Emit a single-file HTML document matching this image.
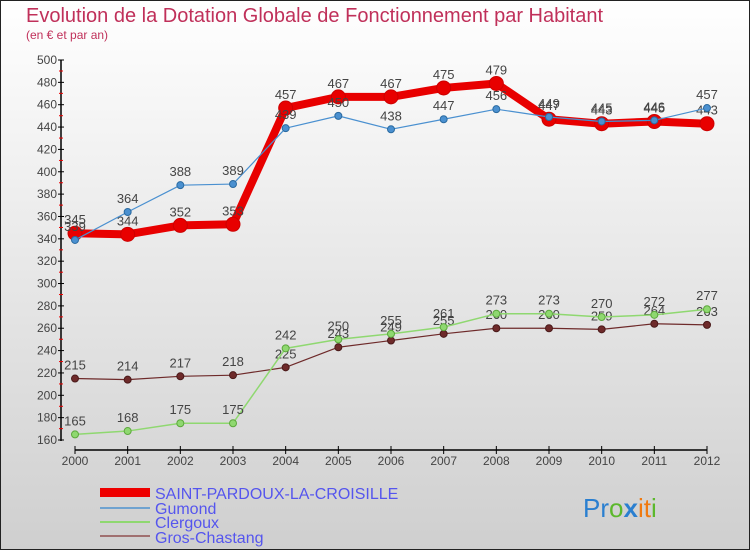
<!DOCTYPE html>
<html><head><meta charset="utf-8"><style>
body{margin:0;width:750px;height:550px;overflow:hidden}
svg{display:block;font-family:"Liberation Sans","DejaVu Sans",sans-serif}
</style></head><body>
<svg id="c" width="750" height="550">
<defs><linearGradient id="bg" x1="0" y1="0" x2="0" y2="1"><stop offset="0" stop-color="#ffffff"/><stop offset="1" stop-color="#cfcfcf"/></linearGradient></defs>
<rect x="0.5" y="0.5" width="749" height="549" fill="url(#bg)" stroke="#222"/>
<text x="26" y="22" font-size="20" fill="#c0305a">Evolution de la Dotation Globale de Fonctionnement par Habitant</text>
<text x="26" y="39" font-size="12" fill="#c0305a">(en € et par an)</text>
<g id="axes"></g><g id="series"></g>
<g>
<rect x="100" y="488" width="50" height="9" fill="#e00"/>
<text x="155" y="499" font-size="16" fill="#5555ee">SAINT-PARDOUX-LA-CROISILLE</text>
<line x1="100" x2="150" y1="508" y2="508" stroke="#6fa3d0" stroke-width="2"/>
<text x="155" y="514" font-size="16" fill="#5555ee">Gumond</text>
<line x1="100" x2="150" y1="522" y2="522" stroke="#8fd870" stroke-width="2"/>
<text x="155" y="528" font-size="16" fill="#5555ee">Clergoux</text>
<line x1="100" x2="150" y1="536" y2="536" stroke="#a07070" stroke-width="2"/>
<text x="155" y="543" font-size="16" fill="#5555ee">Gros-Chastang</text>
</g>
<text x="583" y="517" font-size="26"><tspan fill="#2a7fd0">Pr</tspan><tspan fill="#5cb82c">o</tspan><tspan fill="#2a7fd0" font-weight="bold">x</tspan><tspan fill="#f07a10">it</tspan><tspan fill="#5cb82c">i</tspan></text>
</svg>
<script>
const years=[2000,2001,2002,2003,2004,2005,2006,2007,2008,2009,2010,2011,2012];
const yTicks=[160,180,200,220,240,260,280,300,320,340,360,380,400,420,440,460,480,500];
const saintPardoux=[345,344,352,353,457,467,467,475,479,447,443,445,443];
const gumond=[339,364,388,389,439,450,438,447,456,449,445,446,457];
const clergoux=[165,168,175,175,242,250,255,261,273,273,270,272,277];
const grosChastang=[215,214,217,218,225,243,249,255,260,260,259,264,263];
const NS="http://www.w3.org/2000/svg";
const xS=i=>75+i*(707-75)/12;
const yS=v=>440-(v-160)*380/340;
function mk(tag,attrs,parent,txt){const e=document.createElementNS(NS,tag);for(const k in attrs)e.setAttribute(k,attrs[k]);if(txt!==undefined)e.textContent=txt;parent.appendChild(e);return e;}
const ax=document.getElementById('axes');
let e=mk('line',{x1:61,x2:61,y1:60,y2:441,stroke:'#000','stroke-width':1.5},ax);


e=mk('line',{x1:75,x2:707,y1:450,y2:450,stroke:'#000','stroke-width':1.5},ax);


yTicks.forEach((t,k)=>{const y=yS(t);
mk('line',{x1:58,x2:64,y1:y,y2:y,stroke:'#000'},ax);
if(k>0)mk('line',{x1:59,x2:63,y1:y+11,y2:y+11,stroke:'#e00'},ax);
const l=mk('text',{x:57,y:y+4,'font-size':12,fill:'#444','text-anchor':'end'},ax,t);

});
years.forEach((yr,i)=>{const x=xS(i);
mk('line',{x1:x,x2:x,y1:446,y2:454,stroke:'#000'},ax);
const l=mk('text',{x:x,y:465,'font-size':12,fill:'#444','text-anchor':'middle'},ax,yr);

});
const sg=document.getElementById('series');
function series(vals,color,w,r,name,dotStroke){
const g=mk('g',{},sg);


const p=mk('polyline',{points:vals.map((v,i)=>xS(i)+','+yS(v)).join(' '),fill:'none',stroke:color,'stroke-width':w,'stroke-linejoin':'round'},g);


vals.forEach((v,i)=>{const c=mk('circle',{cx:xS(i),cy:yS(v),r:r,fill:color,stroke:dotStroke,'stroke-width':1},g);


const t=mk('text',{x:xS(i),y:yS(v)-9,'font-size':13,fill:'#444','text-anchor':'middle'},g,v);

});}
series(grosChastang,'#6e2a2a',1.2,3.5,'gros-chastang','#4a1a1a');
series(clergoux,'#8fd870',1.5,3.5,'clergoux','#5ca83c');
series(saintPardoux,'#e80000',8,7,'saint-pardoux','#c00');
series(gumond,'#4a90d0',1.2,3.5,'gumond','#2a6aa0');
</script>
</body></html>
